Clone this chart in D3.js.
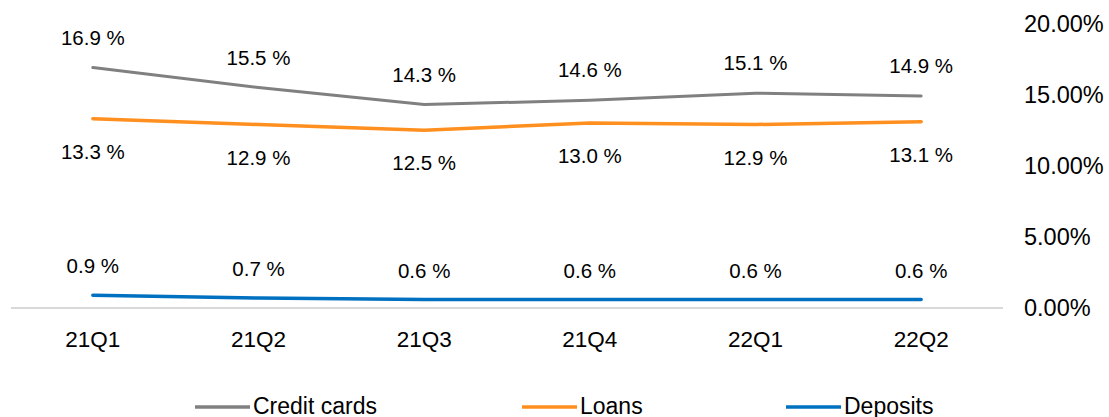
<!DOCTYPE html>
<html>
<head>
<meta charset="utf-8">
<script src="https://cdn.jsdelivr.net/npm/d3@7"></script>
<style>
  body { margin: 0; background: #fff; }
  text { font-family: "Liberation Sans", Arial, sans-serif; fill: #000; }
</style>
</head>
<body>
<div id="chart"></div>
<script>
const quarters = ["21Q1", "21Q2", "21Q3", "21Q4", "22Q1", "22Q2"];
const creditCards = [16.9, 15.5, 14.3, 14.6, 15.1, 14.9];
const loans = [13.3, 12.9, 12.5, 13.0, 12.9, 13.1];
const deposits = [0.9, 0.7, 0.6, 0.6, 0.6, 0.6];
const yTicks = [0, 5, 10, 15, 20];

const series = [
  { name: "Credit cards", values: creditCards, color: "#808080", width: 3, labelDy: -30 },
  { name: "Loans", values: loans, color: "#ff8f1f", width: 3.5, labelDy: 33 },
  { name: "Deposits", values: deposits, color: "#0070c0", width: 3.5, labelDy: -29 }
];

const width = 1109, height = 417;

const svg = d3.select("#chart")
  .append("svg")
  .attr("width", width)
  .attr("height", height);

const x = d3.scalePoint()
  .domain(quarters)
  .range([10, 1004])
  .padding(0.5);

const y = d3.scaleLinear()
  .domain([0, 20])
  .range([308, 23.5]);

// baseline
svg.append("line")
  .attr("x1", 11).attr("x2", 1003)
  .attr("y1", y(0)).attr("y2", y(0))
  .attr("stroke", "#d9d9d9")
  .attr("stroke-width", 2);

// right axis labels
svg.append("g")
  .selectAll("text")
  .data(yTicks)
  .join("text")
  .attr("x", 1024)
  .attr("y", d => y(d))
  .attr("dy", "0.35em")
  .style("font-size", "23.5px")
  .text(d => d.toFixed(2) + "%");

// category labels
svg.append("g")
  .selectAll("text")
  .data(quarters)
  .join("text")
  .attr("x", d => x(d))
  .attr("y", 339)
  .attr("dy", "0.35em")
  .attr("text-anchor", "middle")
  .style("font-size", "22.5px")
  .text(d => d);

const line = d3.line()
  .x((d, i) => x(quarters[i]))
  .y(d => y(d));

series.forEach(s => {
  svg.append("path")
    .datum(s.values)
    .attr("fill", "none")
    .attr("stroke", s.color)
    .attr("stroke-width", s.width)
    .attr("stroke-linecap", "round")
    .attr("d", line);

  svg.append("g")
    .selectAll("text")
    .data(s.values)
    .join("text")
    .attr("x", (d, i) => x(quarters[i]))
    .attr("y", d => y(d) + s.labelDy)
    .attr("dy", "0.35em")
    .attr("text-anchor", "middle")
    .style("font-size", "20.5px")
    .text(d => d.toFixed(1) + " %");
});

// legend
const legendX = [195, 522, 786];
const legend = svg.append("g")
  .selectAll("g")
  .data(series)
  .join("g")
  .attr("transform", (d, i) => `translate(${legendX[i]}, 407)`);

legend.append("line")
  .attr("x1", 0).attr("x2", 55)
  .attr("stroke", d => d.color)
  .attr("stroke-width", 3.5);

legend.append("text")
  .attr("x", 58)
  .attr("y", 0)
  .attr("dy", "0.3em")
  .style("font-size", "23px")
  .text(d => d.name);
</script>
</body>
</html>
